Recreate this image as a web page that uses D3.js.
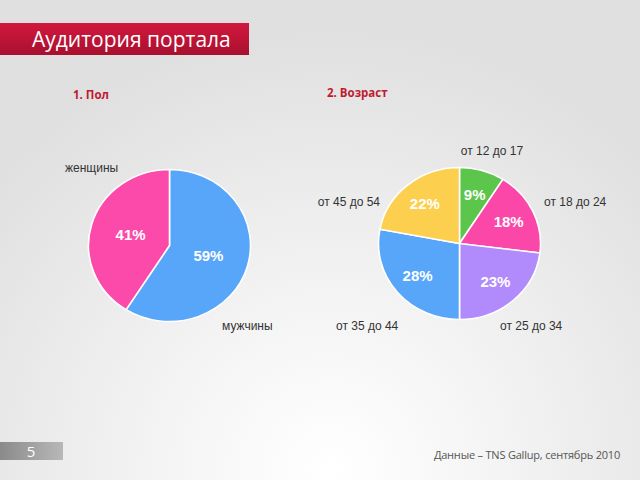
<!DOCTYPE html>
<html><head><meta charset="utf-8">
<script src="https://cdn.jsdelivr.net/npm/d3@7"></script>
<style>html,body{margin:0;padding:0;overflow:hidden}svg{display:block}</style>
</head><body>
<script>
// ---- data ----
const genderCategories = ["мужчины", "женщины"];
const genderValues = [59, 41];
const ageCategories = ["от 12 до 17", "от 18 до 24", "от 25 до 34", "от 35 до 44", "от 45 до 54"];
const ageValues = [9, 18, 23, 28, 22];
const title = "Аудитория портала";
const chartTitles = ["1. Пол", "2. Возраст"];
const footerText = "Данные – TNS Gallup, сентябрь 2010";
const pageNumber = "5";

// ---- styles / layout ----
const W = 640, H = 480;
const genderColors = ["#58a6f9", "#fb4aa9"];
const ageColors = ["#5cc64c", "#fb48a8", "#b18bfb", "#58a6f9", "#fdcf4f"];
const svg = d3.select("body").append("svg").attr("width", W).attr("height", H);
const defs = svg.append("defs");

const bg = defs.append("radialGradient").attr("id", "bg").attr("gradientUnits", "userSpaceOnUse")
  .attr("cx", 330).attr("cy", 470).attr("r", 440);
bg.append("stop").attr("offset", 0).attr("stop-color", "#ffffff");
bg.append("stop").attr("offset", 0.35).attr("stop-color", "#f5f5f5");
bg.append("stop").attr("offset", 1).attr("stop-color", "#e0e0e0");
svg.append("rect").attr("width", W).attr("height", H).attr("fill", "url(#bg)");

const red = defs.append("linearGradient").attr("id", "red").attr("x1", 0).attr("y1", 0).attr("x2", 0).attr("y2", 1);
red.append("stop").attr("offset", 0).attr("stop-color", "#d2183e");
red.append("stop").attr("offset", 1).attr("stop-color", "#a8102f");
svg.append("rect").attr("x", 0).attr("y", 23).attr("width", 249).attr("height", 32).attr("fill", "url(#red)");
svg.append("text").attr("x", 32).attr("y", 47).text(title)
  .attr("font-family", "Open Sans").attr("font-size", 21).attr("fill", "#fff");

const grey = defs.append("linearGradient").attr("id", "grey").attr("x1", 0).attr("y1", 0).attr("x2", 1).attr("y2", 0);
grey.append("stop").attr("offset", 0).attr("stop-color", "#8a8a8a");
grey.append("stop").attr("offset", 1).attr("stop-color", "#b8b8b8");
svg.append("rect").attr("x", 0).attr("y", 442).attr("width", 63).attr("height", 18).attr("fill", "url(#grey)");
svg.append("text").attr("x", 31).attr("y", 457).attr("text-anchor", "middle").text(pageNumber)
  .attr("font-family", "Open Sans").attr("font-size", 15).attr("fill", "#fff");
svg.append("text").attr("x", 620).attr("y", 459).attr("text-anchor", "end").text(footerText)
  .attr("font-family", "Open Sans").attr("font-size", 11).attr("fill", "#555").attr("letter-spacing", -0.2);

const titleFont = {family: "Open Sans", size: 11.5, color: "#c01a30"};
[[73, 99], [327, 97]].forEach((p, i) => {
  svg.append("text").attr("x", p[0]).attr("y", p[1]).text(chartTitles[i])
    .attr("font-family", titleFont.family).attr("font-size", titleFont.size)
    .attr("font-weight", "bold").attr("fill", titleFont.color);
});

const R = 76, SX = 1.066;
function drawPie(cx, cy, cats, vals, colors, labelR, catPos) {
  const pie = d3.pie().sort(null).value(d => d)(vals);
  const arc = d3.arc().innerRadius(0).outerRadius(R);
  const lab = d3.arc().innerRadius(labelR).outerRadius(labelR);
  const g = svg.append("g").attr("transform", `translate(${cx},${cy})`);
  g.append("g").attr("transform", `scale(${SX},1)`).selectAll("path").data(pie).join("path")
    .attr("d", arc).attr("fill", (d, i) => colors[i])
    .attr("stroke", "#fff").attr("stroke-width", 1.5);
  g.selectAll("text.pct").data(pie).join("text").attr("class", "pct")
    .attr("x", d => lab.centroid(d)[0] * SX).attr("y", d => lab.centroid(d)[1] + 5)
    .attr("text-anchor", "middle").text(d => d.data + "%")
    .attr("font-family", "Liberation Sans, Arial").attr("font-weight", "bold")
    .attr("font-size", 15).attr("fill", "#fff");
  g.selectAll("text.cat").data(cats).join("text").attr("class", "cat")
    .attr("x", (d, i) => catPos[i][0]).attr("y", (d, i) => catPos[i][1])
    .attr("text-anchor", (d, i) => catPos[i][2]).text(d => d)
    .attr("font-family", "Liberation Sans, Arial").attr("font-size", 12).attr("fill", "#333");
}
// category label placement (offsets from pie centre)
drawPie(169.5, 245.5, genderCategories, genderValues, genderColors, 38,
  [[52.5, 84, "start"], [-104.5, -74, "start"]]);
drawPie(459.5, 243.5, ageCategories, ageValues, ageColors, 51,
  [[32.5, -89, "middle"], [84.5, -38, "start"], [40.5, 86, "start"], [-123.5, 86, "start"], [-79.5, -38, "end"]]);
</script>
</body></html>
